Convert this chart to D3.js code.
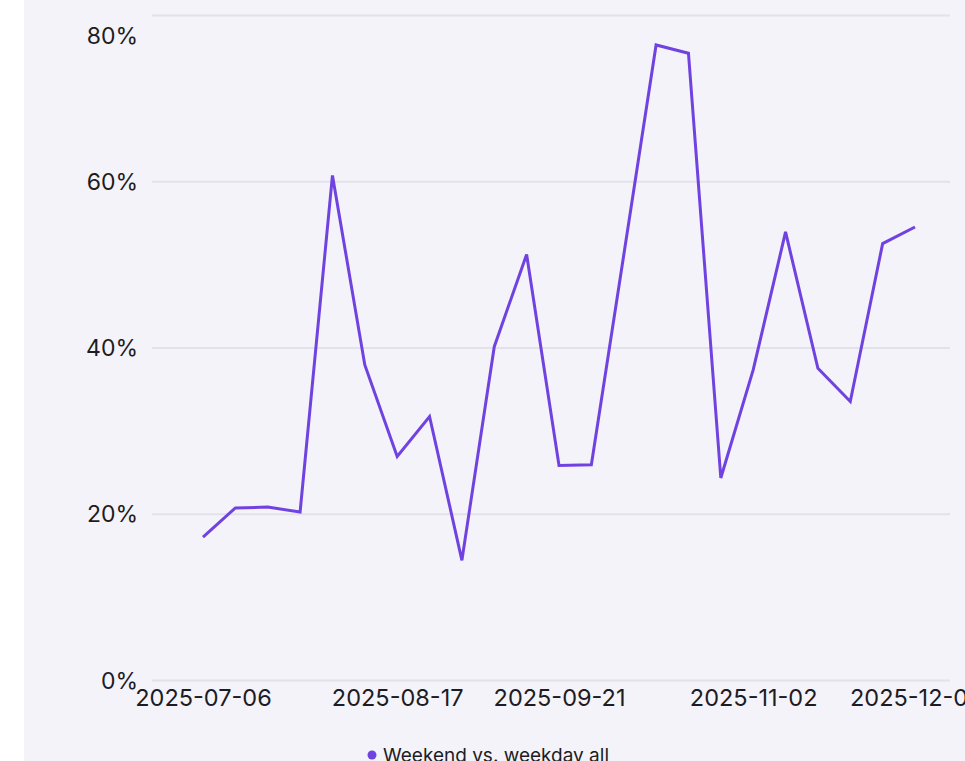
<!DOCTYPE html>
<html>
<head>
<meta charset="utf-8">
<script src="https://cdn.jsdelivr.net/npm/d3@7"></script>
<style>
  html, body { margin: 0; padding: 0; background: #ffffff; overflow: hidden; }
  svg { display: block; font-family: Inter, "Noto Sans", sans-serif; }
</style>
</head>
<body>
<svg id="chart" width="965" height="761"></svg>
<script>
// ---- data ----
const dates = [
  "2025-07-06","2025-07-13","2025-07-20","2025-07-27","2025-08-03","2025-08-10",
  "2025-08-17","2025-08-24","2025-08-31","2025-09-07","2025-09-14","2025-09-21",
  "2025-09-28","2025-10-05","2025-10-12","2025-10-19","2025-10-26","2025-11-02",
  "2025-11-09","2025-11-16","2025-11-23","2025-11-30","2025-12-07"
];
const values = [
  0.172, 0.207, 0.208, 0.202, 0.607, 0.379, 0.269, 0.317, 0.144, 0.401, 0.512, 0.258,
  0.259, 0.511, 0.764, 0.754, 0.243, 0.373, 0.539, 0.375, 0.335, 0.525, 0.545
];
const xTickLabels = ["2025-07-06","2025-08-17","2025-09-21","2025-11-02","2025-12-07"];
const yTickValues = [0, 0.2, 0.4, 0.6, 0.8];
const seriesName = "Weekend vs. weekday all";

// ---- layout ----
const W = 965, H = 761;
const parse = d3.timeParse("%Y-%m-%d");
const fmt = d3.timeFormat("%Y-%m-%d");
const data = dates.map((d, i) => ({ date: parse(d), value: values[i] }));

const svg = d3.select("#chart");
svg.append("rect").attr("x", 24).attr("y", 0).attr("width", W - 24).attr("height", H).attr("fill", "#f4f3f9");

const x = d3.scaleTime().domain([parse(dates[0]), parse(dates[dates.length - 1])]).range([203, 915]);
const y = d3.scaleLinear().domain([0, 0.8]).range([680, 15]);

const gridLeft = 152, gridRight = 950;

// y axis with gridlines
const yAxis = svg.append("g")
  .attr("transform", `translate(${gridLeft},0)`)
  .call(d3.axisLeft(y).tickValues(yTickValues).tickFormat(d3.format(".0%"))
    .tickSize(-(gridRight - gridLeft)).tickPadding(14));
yAxis.select(".domain").remove();
yAxis.selectAll(".tick line").attr("stroke", "#e3e1ea").attr("stroke-width", 2);
yAxis.selectAll(".tick text")
  .attr("fill", "#1d1c24").style("font-size", "23px").style("font-family", "Inter, sans-serif")
  .attr("dy", (d) => d === 0.8 ? "1.25em" : "0.35em");

// x axis
const xAxis = svg.append("g")
  .attr("transform", `translate(0,${y(0)})`)
  .call(d3.axisBottom(x).tickValues(xTickLabels.map(parse)).tickFormat(fmt).tickSize(0).tickPadding(9));
xAxis.select(".domain").remove();
xAxis.selectAll(".tick text")
  .attr("fill", "#1d1c24").style("font-size", "23.5px").style("font-family", "Inter, sans-serif");

// line
const line = d3.line().x(d => x(d.date)).y(d => y(d.value));
svg.append("path").datum(data)
  .attr("d", line)
  .attr("fill", "none")
  .attr("stroke", "#7043e0")
  .attr("stroke-width", 3)
  .attr("stroke-linejoin", "miter");

// legend
const lg = svg.append("g").attr("transform", "translate(372,755)");
lg.append("circle").attr("r", 4.5).attr("fill", "#7043e0");
lg.append("text").attr("x", 11).attr("y", 7).attr("fill", "#1d1c24")
  .style("font-size", "19px").style("font-family", "Inter, sans-serif").text(seriesName);
</script>
</body>
</html>
